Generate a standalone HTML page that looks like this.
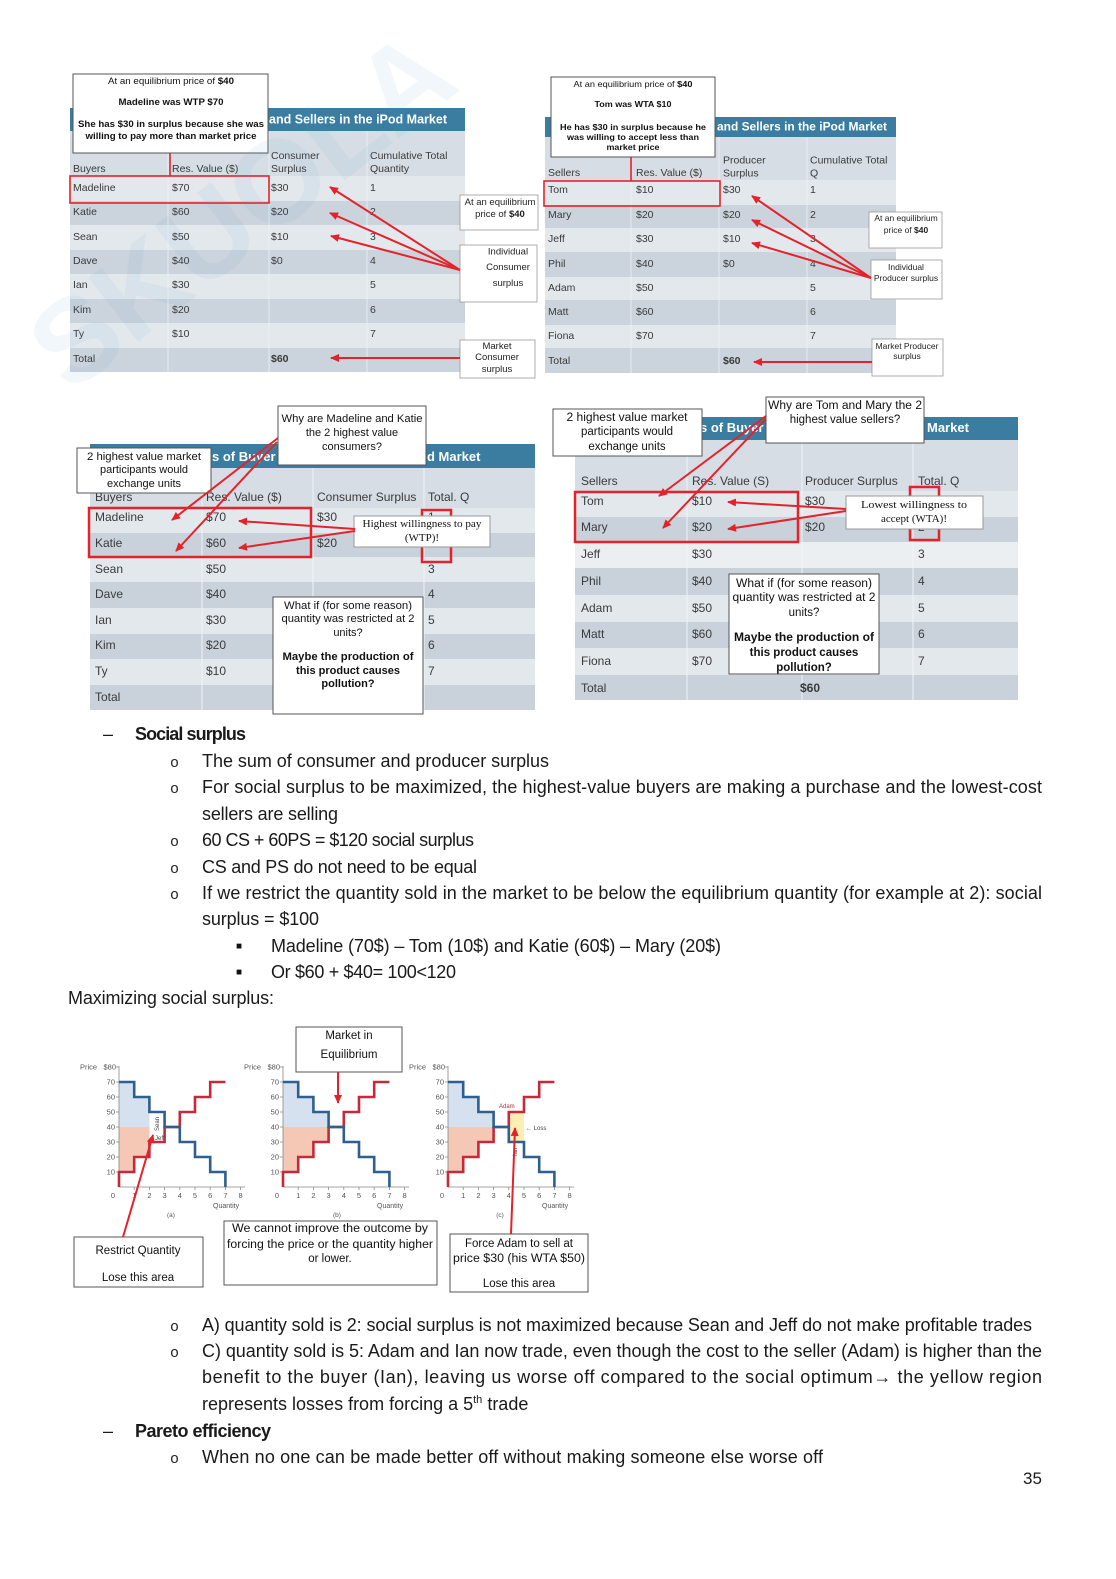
<!DOCTYPE html>
<html>
<head>
<meta charset="utf-8">
<style>
html,body{margin:0;padding:0;background:#fff;}
body{width:1116px;height:1579px;position:relative;overflow:hidden;}
svg{position:absolute;left:0;top:0;}
.t{font-family:"Liberation Sans",Arial,sans-serif;}
.s{font-family:"Liberation Serif","Times New Roman",serif;}
</style>
</head>
<body>
<svg width="1116" height="1579" viewBox="0 0 1116 1579" xmlns="http://www.w3.org/2000/svg">
<defs>
<marker id="ah" markerWidth="9" markerHeight="8" refX="8" refY="4" orient="auto" markerUnits="userSpaceOnUse">
<path d="M0,0 L9,4 L0,8 z" fill="#e3232b"/>
</marker>
</defs>

<!-- ================= TABLE 1 (Buyers, top-left) ================= -->
<g class="t" font-size="10.5" fill="#3a3a3a">
<rect x="70" y="108" width="395" height="23" fill="#3a7da1"/>
<text x="269" y="123.5" font-weight="bold" font-size="12.5" fill="#fff" textLength="178" lengthAdjust="spacingAndGlyphs">and Sellers in the iPod Market</text>
<rect x="70" y="131" width="395" height="45" fill="#d6dde4"/>
<rect x="70" y="176" width="395" height="25" fill="#e3e8ed"/>
<rect x="70" y="201" width="395" height="24" fill="#cbd4dc"/>
<rect x="70" y="225" width="395" height="25" fill="#e3e8ed"/>
<rect x="70" y="250" width="395" height="24" fill="#cbd4dc"/>
<rect x="70" y="274" width="395" height="25" fill="#e3e8ed"/>
<rect x="70" y="299" width="395" height="24" fill="#cbd4dc"/>
<rect x="70" y="323" width="395" height="25" fill="#e3e8ed"/>
<rect x="70" y="348" width="395" height="24" fill="#cbd4dc"/>
<g stroke="#f2f5f8" stroke-width="1" opacity="0.7">
<line x1="168" y1="131" x2="168" y2="372"/><line x1="269" y1="131" x2="269" y2="372"/><line x1="367" y1="131" x2="367" y2="372"/>
</g>
<text x="73" y="172">Buyers</text>
<text x="172" y="172">Res. Value ($)</text>
<text x="271" y="159">Consumer</text><text x="271" y="172">Surplus</text>
<text x="370" y="159">Cumulative Total</text><text x="370" y="172">Quantity</text>
<text x="73" y="191">Madeline</text><text x="172" y="191">$70</text><text x="271" y="191">$30</text><text x="370" y="191">1</text>
<text x="73" y="215">Katie</text><text x="172" y="215">$60</text><text x="271" y="215">$20</text><text x="370" y="215">2</text>
<text x="73" y="240">Sean</text><text x="172" y="240">$50</text><text x="271" y="240">$10</text><text x="370" y="240">3</text>
<text x="73" y="264">Dave</text><text x="172" y="264">$40</text><text x="271" y="264">$0</text><text x="370" y="264">4</text>
<text x="73" y="288">Ian</text><text x="172" y="288">$30</text><text x="370" y="288">5</text>
<text x="73" y="313">Kim</text><text x="172" y="313">$20</text><text x="370" y="313">6</text>
<text x="73" y="337">Ty</text><text x="172" y="337">$10</text><text x="370" y="337">7</text>
<text x="73" y="362">Total</text><text x="271" y="362" font-weight="bold">$60</text>

<rect x="70" y="176" width="199" height="27" fill="none" stroke="#e3232b" stroke-width="1.6"/>
<line x1="170" y1="153" x2="170" y2="176" stroke="#e3232b" stroke-width="1.6"/>

<rect x="73" y="74" width="195" height="79" fill="#fff" stroke="#555" stroke-width="1"/>
<g font-size="9" fill="#111" text-anchor="middle">
<text x="171" y="84" textLength="126" lengthAdjust="spacingAndGlyphs">At an equilibrium price of <tspan font-weight="bold">$40</tspan></text>
<text x="171" y="105" font-weight="bold" textLength="105" lengthAdjust="spacingAndGlyphs">Madeline was WTP $70</text>
<text x="171" y="127" font-weight="bold" textLength="186" lengthAdjust="spacingAndGlyphs">She has $30 in surplus because she was</text>
<text x="171" y="139" font-weight="bold" textLength="171" lengthAdjust="spacingAndGlyphs">willing to pay more than market price</text>
</g>

<g fill="#fff" stroke="#999" stroke-width="0.8">
<rect x="460" y="195" width="78" height="35"/>
<rect x="460" y="245" width="77" height="57"/>
<rect x="460" y="340" width="75" height="38"/>
</g>
<g font-size="9.5" fill="#222" text-anchor="middle">
<text x="500" y="205">At an equilibrium</text>
<text x="500" y="217">price of <tspan font-weight="bold">$40</tspan></text>
<text x="508" y="254.5">Individual</text>
<text x="508" y="270">Consumer</text>
<text x="508" y="286">surplus</text>
<text x="497" y="349">Market</text>
<text x="497" y="360">Consumer</text>
<text x="497" y="372">surplus</text>
</g>
<g stroke="#e3232b" stroke-width="2" marker-end="url(#ah)">
<line x1="460" y1="270" x2="330" y2="187"/>
<line x1="460" y1="270" x2="330" y2="213"/>
<line x1="460" y1="270" x2="331" y2="236"/>
<line x1="460" y1="358" x2="331" y2="358"/>
</g>
</g>

<!-- ================= TABLE 2 (Sellers, top-right) ================= -->
<g class="t" font-size="10.5" fill="#3a3a3a">
<rect x="545" y="117" width="351" height="20" fill="#3a7da1"/>
<text x="717" y="130.5" font-weight="bold" font-size="12" fill="#fff" textLength="170" lengthAdjust="spacingAndGlyphs">and Sellers in the iPod Market</text>
<rect x="545" y="137" width="351" height="43" fill="#d6dde4"/>
<rect x="545" y="180" width="351" height="25" fill="#e3e8ed"/>
<rect x="545" y="205" width="351" height="23" fill="#cbd4dc"/>
<rect x="545" y="228" width="351" height="24" fill="#e3e8ed"/>
<rect x="545" y="252" width="351" height="25" fill="#cbd4dc"/>
<rect x="545" y="277" width="351" height="23" fill="#e3e8ed"/>
<rect x="545" y="300" width="351" height="25" fill="#cbd4dc"/>
<rect x="545" y="325" width="351" height="23" fill="#e3e8ed"/>
<rect x="545" y="348" width="351" height="25" fill="#cbd4dc"/>
<g stroke="#f2f5f8" stroke-width="1" opacity="0.7">
<line x1="631" y1="137" x2="631" y2="373"/><line x1="719" y1="137" x2="719" y2="373"/><line x1="807" y1="137" x2="807" y2="373"/>
</g>
<text x="548" y="176">Sellers</text>
<text x="636" y="176">Res. Value ($)</text>
<text x="723" y="163.5">Producer</text><text x="723" y="176.5">Surplus</text>
<text x="810" y="163.5">Cumulative Total</text><text x="810" y="176.5">Q</text>
<text x="548" y="193">Tom</text><text x="636" y="193">$10</text><text x="723" y="193">$30</text><text x="810" y="193">1</text>
<text x="548" y="218">Mary</text><text x="636" y="218">$20</text><text x="723" y="218">$20</text><text x="810" y="218">2</text>
<text x="548" y="242">Jeff</text><text x="636" y="242">$30</text><text x="723" y="242">$10</text><text x="810" y="242">3</text>
<text x="548" y="267">Phil</text><text x="636" y="267">$40</text><text x="723" y="267">$0</text><text x="810" y="267">4</text>
<text x="548" y="291">Adam</text><text x="636" y="291">$50</text><text x="810" y="291">5</text>
<text x="548" y="315">Matt</text><text x="636" y="315">$60</text><text x="810" y="315">6</text>
<text x="548" y="339">Fiona</text><text x="636" y="339">$70</text><text x="810" y="339">7</text>
<text x="548" y="364">Total</text><text x="723" y="364" font-weight="bold">$60</text>

<rect x="544" y="181" width="176" height="25" fill="none" stroke="#e3232b" stroke-width="1.6"/>
<line x1="631" y1="157" x2="631" y2="181" stroke="#e3232b" stroke-width="1.6"/>

<rect x="551" y="77" width="164" height="80" fill="#fff" stroke="#555" stroke-width="1"/>
<g font-size="8.5" fill="#111" text-anchor="middle">
<text x="633" y="87" textLength="119" lengthAdjust="spacingAndGlyphs">At an equilibrium price of <tspan font-weight="bold">$40</tspan></text>
<text x="633" y="107" font-weight="bold" textLength="77" lengthAdjust="spacingAndGlyphs">Tom was WTA $10</text>
<text x="633" y="130" font-weight="bold" textLength="146" lengthAdjust="spacingAndGlyphs">He has $30 in surplus because he</text>
<text x="633" y="140" font-weight="bold" textLength="132" lengthAdjust="spacingAndGlyphs">was willing to accept less than</text>
<text x="633" y="150" font-weight="bold" textLength="53" lengthAdjust="spacingAndGlyphs">market price</text>
</g>

<g fill="#fff" stroke="#999" stroke-width="0.8">
<rect x="869" y="212" width="73" height="36"/>
<rect x="871" y="260" width="71" height="39"/>
<rect x="872" y="339" width="71" height="37"/>
</g>
<g font-size="8.5" fill="#222" text-anchor="middle">
<text x="906" y="221">At an equilibrium</text>
<text x="906" y="233">price of <tspan font-weight="bold">$40</tspan></text>
<text x="906" y="270">Individual</text>
<text x="906" y="281">Producer surplus</text>
<text x="907" y="349">Market Producer</text>
<text x="907" y="359">surplus</text>
</g>
<g stroke="#e3232b" stroke-width="2" marker-end="url(#ah)">
<line x1="871" y1="278" x2="752" y2="196"/>
<line x1="871" y1="278" x2="752" y2="220"/>
<line x1="871" y1="278" x2="752" y2="243"/>
<line x1="872" y1="362" x2="754" y2="362"/>
</g>
</g>

<!-- ================= TABLE 3 (middle-left) ================= -->
<g class="t" font-size="12" fill="#3a3a3a">
<rect x="90" y="444" width="445" height="24" fill="#3a7da1"/>
<text x="212" y="461" font-weight="bold" font-size="13" fill="#fff">s of Buyer</text>
<text x="427" y="461" font-weight="bold" font-size="13" fill="#fff">d Market</text>
<rect x="90" y="468" width="445" height="40" fill="#d6dde4"/>
<rect x="90" y="508" width="445" height="25" fill="#e3e8ed"/>
<rect x="90" y="533" width="445" height="24" fill="#c9d2db"/>
<rect x="90" y="557" width="445" height="25" fill="#e3e8ed"/>
<rect x="90" y="582" width="445" height="26" fill="#c9d2db"/>
<rect x="90" y="608" width="445" height="26" fill="#e3e8ed"/>
<rect x="90" y="634" width="445" height="25" fill="#c9d2db"/>
<rect x="90" y="659" width="445" height="26" fill="#e3e8ed"/>
<rect x="90" y="685" width="445" height="25" fill="#c9d2db"/>
<g stroke="#f2f5f8" stroke-width="1.2" opacity="0.8">
<line x1="202" y1="468" x2="202" y2="710"/><line x1="313" y1="468" x2="313" y2="710"/><line x1="424" y1="468" x2="424" y2="710"/>
</g>
<text x="95" y="501">Buyers</text>
<text x="206" y="501">Res. Value ($)</text>
<text x="317" y="501">Consumer Surplus</text>
<text x="428" y="501">Total. Q</text>
<text x="95" y="521">Madeline</text><text x="206" y="521">$70</text><text x="317" y="521">$30</text><text x="428" y="521">1</text>
<text x="95" y="547">Katie</text><text x="206" y="547">$60</text><text x="317" y="547">$20</text><text x="428" y="547">2</text>
<text x="95" y="573">Sean</text><text x="206" y="573">$50</text><text x="428" y="573">3</text>
<text x="95" y="598">Dave</text><text x="206" y="598">$40</text><text x="428" y="598">4</text>
<text x="95" y="624">Ian</text><text x="206" y="624">$30</text><text x="428" y="624">5</text>
<text x="95" y="649">Kim</text><text x="206" y="649">$20</text><text x="428" y="649">6</text>
<text x="95" y="675">Ty</text><text x="206" y="675">$10</text><text x="428" y="675">7</text>
<text x="95" y="701">Total</text>

<rect x="89" y="508" width="222" height="49" fill="none" stroke="#e3232b" stroke-width="2.5"/>
<rect x="422" y="510" width="29" height="52" fill="none" stroke="#e3232b" stroke-width="2.5"/>

<g fill="#fff" stroke="#555" stroke-width="1">
<rect x="77" y="448" width="134" height="45"/>
<rect x="278" y="406" width="148" height="59"/>
<rect x="354" y="516" width="136" height="31" stroke="#999"/>
<rect x="273" y="597" width="150" height="117"/>
</g>
<g font-size="11" fill="#111" text-anchor="middle">
<text x="144" y="460" textLength="114" lengthAdjust="spacingAndGlyphs">2 highest value market</text>
<text x="144" y="473">participants would</text>
<text x="144" y="487">exchange units</text>
<text x="352" y="422" textLength="141" lengthAdjust="spacingAndGlyphs">Why are Madeline and Katie</text>
<text x="352" y="436">the 2 highest value</text>
<text x="352" y="450">consumers?</text>
<text x="348" y="609" textLength="128" lengthAdjust="spacingAndGlyphs">What if (for some reason)</text>
<text x="348" y="622" textLength="133" lengthAdjust="spacingAndGlyphs">quantity was restricted at 2</text>
<text x="348" y="636">units?</text>
<text x="348" y="660" font-weight="bold" textLength="131" lengthAdjust="spacingAndGlyphs">Maybe the production of</text>
<text x="348" y="674" font-weight="bold">this product causes</text>
<text x="348" y="687" font-weight="bold">pollution?</text>
</g>
<g class="s" font-size="11" fill="#111" text-anchor="middle">
<text x="422" y="527" textLength="119" lengthAdjust="spacingAndGlyphs">Highest willingness to pay</text>
<text x="422" y="541">(WTP)!</text>
</g>
<g stroke="#e3232b" stroke-width="2" marker-end="url(#ah)">
<line x1="355" y1="529" x2="239" y2="521"/>
<line x1="355" y1="531" x2="239" y2="548"/>
<line x1="278" y1="438" x2="172" y2="520"/>
<line x1="277" y1="442" x2="176" y2="551"/>
</g>
</g>

<!-- ================= TABLE 4 (middle-right) ================= -->
<g class="t" font-size="12" fill="#3a3a3a">
<rect x="575" y="417" width="443" height="23" fill="#3a7da1"/>
<text x="700" y="432" font-weight="bold" font-size="13" fill="#fff">s of Buyer</text>
<text x="927" y="432" font-weight="bold" font-size="13" fill="#fff">Market</text>
<rect x="575" y="440" width="443" height="51" fill="#d6dde4"/>
<rect x="575" y="491" width="443" height="26" fill="#e3e8ed"/>
<rect x="575" y="517" width="443" height="25" fill="#c9d2db"/>
<rect x="575" y="542" width="443" height="26" fill="#eceff2"/>
<rect x="575" y="568" width="443" height="27" fill="#c9d2db"/>
<rect x="575" y="595" width="443" height="27" fill="#e3e8ed"/>
<rect x="575" y="622" width="443" height="26" fill="#c9d2db"/>
<rect x="575" y="648" width="443" height="27" fill="#e3e8ed"/>
<rect x="575" y="675" width="443" height="25" fill="#c9d2db"/>
<g stroke="#f2f5f8" stroke-width="1.2" opacity="0.8">
<line x1="687" y1="440" x2="687" y2="700"/><line x1="802" y1="440" x2="802" y2="700"/><line x1="913" y1="440" x2="913" y2="700"/>
</g>
<text x="581" y="485">Sellers</text>
<text x="692" y="485">Res. Value (S)</text>
<text x="805" y="485">Producer Surplus</text>
<text x="918" y="485">Total. Q</text>
<text x="581" y="505">Tom</text><text x="692" y="505">$10</text><text x="805" y="505">$30</text><text x="918" y="505">1</text>
<text x="581" y="531">Mary</text><text x="692" y="531">$20</text><text x="805" y="531">$20</text><text x="918" y="531">2</text>
<text x="581" y="558">Jeff</text><text x="692" y="558">$30</text><text x="918" y="558">3</text>
<text x="581" y="585">Phil</text><text x="692" y="585">$40</text><text x="918" y="585">4</text>
<text x="581" y="612">Adam</text><text x="692" y="612">$50</text><text x="918" y="612">5</text>
<text x="581" y="638">Matt</text><text x="692" y="638">$60</text><text x="918" y="638">6</text>
<text x="581" y="665">Fiona</text><text x="692" y="665">$70</text><text x="918" y="665">7</text>
<text x="581" y="692">Total</text><text x="800" y="692" font-weight="bold">$60</text>

<rect x="575" y="492" width="223" height="50" fill="none" stroke="#e3232b" stroke-width="2.5"/>
<rect x="910" y="487" width="29" height="53" fill="none" stroke="#e3232b" stroke-width="2.5"/>

<g fill="#fff" stroke="#555" stroke-width="1">
<rect x="553" y="409" width="149" height="47"/>
<rect x="766" y="397" width="158" height="46"/>
<rect x="846" y="496" width="137" height="33" stroke="#999"/>
<rect x="729" y="574" width="150" height="100"/>
</g>
<g font-size="11.5" fill="#111" text-anchor="middle">
<text x="627" y="421" textLength="121" lengthAdjust="spacingAndGlyphs">2 highest value market</text>
<text x="627" y="435">participants would</text>
<text x="627" y="450">exchange units</text>
<text x="845" y="409" textLength="154" lengthAdjust="spacingAndGlyphs">Why are Tom and Mary the 2</text>
<text x="845" y="423">highest value sellers?</text>
<text x="804" y="587" textLength="136" lengthAdjust="spacingAndGlyphs">What if (for some reason)</text>
<text x="804" y="601" textLength="143" lengthAdjust="spacingAndGlyphs">quantity was restricted at 2</text>
<text x="804" y="616">units?</text>
<text x="804" y="641" font-weight="bold" textLength="140" lengthAdjust="spacingAndGlyphs">Maybe the production of</text>
<text x="804" y="656" font-weight="bold">this product causes</text>
<text x="804" y="671" font-weight="bold">pollution?</text>
</g>
<g class="s" font-size="11" fill="#111" text-anchor="middle">
<text x="914" y="508" textLength="106" lengthAdjust="spacingAndGlyphs">Lowest willingness to</text>
<text x="914" y="522">accept (WTA)!</text>
</g>
<g stroke="#e3232b" stroke-width="2" marker-end="url(#ah)">
<line x1="846" y1="509" x2="728" y2="502"/>
<line x1="846" y1="511" x2="728" y2="529"/>
<line x1="766" y1="416" x2="659" y2="496"/>
<line x1="766" y1="419" x2="663" y2="528"/>
</g>
</g>

<!-- faint watermark -->
<g opacity="0.07" class="t">
<text x="0" y="0" transform="translate(70,395) rotate(-38)" font-size="118" font-weight="bold" fill="#5a9ad6">SKUOLA</text>
</g>

<!-- ================= BODY TEXT ================= -->
<g class="t" font-size="18" fill="#1a1a1a">
<text x="103" y="740">–</text>
<text x="135" y="740" font-weight="bold" textLength="111" lengthAdjust="spacing">Social surplus</text>
<text x="202" y="767" textLength="347" lengthAdjust="spacing">The sum of consumer and producer surplus</text>
<text x="202" y="793" textLength="840" lengthAdjust="spacing">For social surplus to be maximized, the highest-value buyers are making a purchase and the lowest-cost</text>
<text x="202" y="820" textLength="136" lengthAdjust="spacing">sellers are selling</text>
<text x="202" y="846" textLength="272" lengthAdjust="spacing">60 CS + 60PS = $120 social surplus</text>
<text x="202" y="873" textLength="275" lengthAdjust="spacing">CS and PS do not need to be equal</text>
<text x="202" y="899" textLength="840" lengthAdjust="spacing">If we restrict the quantity sold in the market to be below the equilibrium quantity (for example at 2): social</text>
<text x="202" y="925" textLength="117" lengthAdjust="spacing">surplus = $100</text>
<text x="271" y="952" textLength="450" lengthAdjust="spacing">Madeline (70$) – Tom (10$) and Katie (60$) – Mary (20$)</text>
<text x="271" y="978" textLength="185" lengthAdjust="spacing">Or $60 + $40= 100&lt;120</text>
<text x="68" y="1004" textLength="206" lengthAdjust="spacing">Maximizing social surplus:</text>

<text x="202" y="1331" textLength="830" lengthAdjust="spacing">A) quantity sold is 2: social surplus is not maximized because Sean and Jeff do not make profitable trades</text>
<text x="202" y="1357" textLength="840" lengthAdjust="spacing">C) quantity sold is 5: Adam and Ian now trade, even though the cost to the seller (Adam) is higher than the</text>
<text x="202" y="1383" textLength="840" lengthAdjust="spacing">benefit to the buyer (Ian), leaving us worse off compared to the social optimum→ the yellow region</text>
<text x="202" y="1410">represents losses from forcing a 5<tspan font-size="11" dy="-7">th</tspan><tspan dy="7"> trade</tspan></text>
<text x="103" y="1437">–</text>
<text x="135" y="1437" font-weight="bold" textLength="136" lengthAdjust="spacing">Pareto efficiency</text>
<text x="202" y="1463" textLength="621" lengthAdjust="spacing">When no one can be made better off without making someone else worse off</text>
<text x="1023" y="1484" font-size="17">35</text>
</g>
<g font-family="'Liberation Mono',monospace" font-size="15" fill="#222">
<text x="170" y="767">o</text>
<text x="170" y="793">o</text>
<text x="170" y="846">o</text>
<text x="170" y="873">o</text>
<text x="170" y="899">o</text>
<text x="170" y="1331">o</text>
<text x="170" y="1357">o</text>
<text x="170" y="1463">o</text>
</g>
<g class="t" font-size="10" fill="#111">
<text x="236" y="949">■</text>
<text x="236" y="975">■</text>
</g>

<!-- ================= CHARTS ================= -->
<!-- chart a -->
<g transform="translate(119,0)" class="t">
<path d="M0,1127 V1082 H15.2 V1097 H30.4 V1127 Z" fill="#d6e1ef"/>
<path d="M0,1127 V1172 H15.2 V1157 H30.4 V1127 Z" fill="#f4c8b5"/>
<g stroke="#888" stroke-width="0.8" fill="none">
<path d="M0,1066 V1187 H126"/>
<path d="M-3,1082 H0 M-3,1097 H0 M-3,1112 H0 M-3,1127 H0 M-3,1142 H0 M-3,1157 H0 M-3,1172 H0 M-3,1067 H0"/>
<path d="M15.2,1187 v3 M30.4,1187 v3 M45.6,1187 v3 M60.8,1187 v3 M76,1187 v3 M91.2,1187 v3 M106.4,1187 v3 M121.6,1187 v3"/>
</g>
<path d="M0,1187 V1172 H15.2 V1157 H30.4 V1142 H45.6 V1127 H60.8 V1112 H76 V1097 H91.2 V1082 H106.4" fill="none" stroke="#c62a3a" stroke-width="2.6"/>
<path d="M0,1082 H15.2 V1097 H30.4 V1112 H45.6 V1127 H60.8 V1142 H76 V1157 H91.2 V1172 H106.4 V1187" fill="none" stroke="#2d5f91" stroke-width="2.6"/>
<g font-size="7.5" fill="#555" text-anchor="end">
<text x="-39" y="1069.5" text-anchor="start">Price</text><text x="-3" y="1069.5">$80</text>
<text x="-4" y="1084.5">70</text><text x="-4" y="1099.5">60</text><text x="-4" y="1114.5">50</text><text x="-4" y="1129.5">40</text>
<text x="-4" y="1144.5">30</text><text x="-4" y="1159.5">20</text><text x="-4" y="1174.5">10</text>
</g>
<g font-size="7.5" fill="#555" text-anchor="middle">
<text x="-6" y="1198">0</text><text x="15.2" y="1198">1</text><text x="30.4" y="1198">2</text><text x="45.6" y="1198">3</text>
<text x="60.8" y="1198">4</text><text x="76" y="1198">5</text><text x="91.2" y="1198">6</text><text x="106.4" y="1198">7</text><text x="121.6" y="1198">8</text>
</g>
<text x="94" y="1208" font-size="7" fill="#555">Quantity</text>
<text x="52" y="1217" font-size="6.5" fill="#555" text-anchor="middle">(a)</text>
<text x="0" y="0" transform="translate(40,1131) rotate(-90)" font-size="6" fill="#444">Sean</text>
<text x="36" y="1140" font-size="6" fill="#444">Jeff</text>
</g>

<!-- chart b -->
<g transform="translate(283,0)" class="t">
<path d="M0,1127 V1082 H15.2 V1097 H30.4 V1112 H45.6 V1127 Z" fill="#d6e1ef"/>
<path d="M0,1127 V1172 H15.2 V1157 H30.4 V1142 H45.6 V1127 Z" fill="#f4c8b5"/>
<g stroke="#888" stroke-width="0.8" fill="none">
<path d="M0,1066 V1187 H126"/>
<path d="M-3,1082 H0 M-3,1097 H0 M-3,1112 H0 M-3,1127 H0 M-3,1142 H0 M-3,1157 H0 M-3,1172 H0 M-3,1067 H0"/>
<path d="M15.2,1187 v3 M30.4,1187 v3 M45.6,1187 v3 M60.8,1187 v3 M76,1187 v3 M91.2,1187 v3 M106.4,1187 v3 M121.6,1187 v3"/>
</g>
<path d="M0,1187 V1172 H15.2 V1157 H30.4 V1142 H45.6 V1127 H60.8 V1112 H76 V1097 H91.2 V1082 H106.4" fill="none" stroke="#c62a3a" stroke-width="2.6"/>
<path d="M0,1082 H15.2 V1097 H30.4 V1112 H45.6 V1127 H60.8 V1142 H76 V1157 H91.2 V1172 H106.4 V1187" fill="none" stroke="#2d5f91" stroke-width="2.6"/>
<g font-size="7.5" fill="#555" text-anchor="end">
<text x="-39" y="1069.5" text-anchor="start">Price</text><text x="-3" y="1069.5">$80</text>
<text x="-4" y="1084.5">70</text><text x="-4" y="1099.5">60</text><text x="-4" y="1114.5">50</text><text x="-4" y="1129.5">40</text>
<text x="-4" y="1144.5">30</text><text x="-4" y="1159.5">20</text><text x="-4" y="1174.5">10</text>
</g>
<g font-size="7.5" fill="#555" text-anchor="middle">
<text x="-6" y="1198">0</text><text x="15.2" y="1198">1</text><text x="30.4" y="1198">2</text><text x="45.6" y="1198">3</text>
<text x="60.8" y="1198">4</text><text x="76" y="1198">5</text><text x="91.2" y="1198">6</text><text x="106.4" y="1198">7</text><text x="121.6" y="1198">8</text>
</g>
<text x="94" y="1208" font-size="7" fill="#555">Quantity</text>
<text x="54" y="1217" font-size="6.5" fill="#555" text-anchor="middle">(b)</text>
</g>

<!-- chart c -->
<g transform="translate(448,0)" class="t">
<path d="M0,1127 V1082 H15.2 V1097 H30.4 V1112 H45.6 V1127 Z" fill="#d6e1ef"/>
<path d="M0,1127 V1172 H15.2 V1157 H30.4 V1142 H45.6 V1127 Z" fill="#f4c8b5"/>
<rect x="60.8" y="1112" width="15.2" height="30" fill="#fbefb4"/>
<g stroke="#888" stroke-width="0.8" fill="none">
<path d="M0,1066 V1187 H126"/>
<path d="M-3,1082 H0 M-3,1097 H0 M-3,1112 H0 M-3,1127 H0 M-3,1142 H0 M-3,1157 H0 M-3,1172 H0 M-3,1067 H0"/>
<path d="M15.2,1187 v3 M30.4,1187 v3 M45.6,1187 v3 M60.8,1187 v3 M76,1187 v3 M91.2,1187 v3 M106.4,1187 v3 M121.6,1187 v3"/>
</g>
<path d="M0,1187 V1172 H15.2 V1157 H30.4 V1142 H45.6 V1127 H60.8 V1112 H76 V1097 H91.2 V1082 H106.4" fill="none" stroke="#c62a3a" stroke-width="2.6"/>
<path d="M0,1082 H15.2 V1097 H30.4 V1112 H45.6 V1127 H60.8 V1142 H76 V1157 H91.2 V1172 H106.4 V1187" fill="none" stroke="#2d5f91" stroke-width="2.6"/>
<g font-size="7.5" fill="#555" text-anchor="end">
<text x="-39" y="1069.5" text-anchor="start">Price</text><text x="-3" y="1069.5">$80</text>
<text x="-4" y="1084.5">70</text><text x="-4" y="1099.5">60</text><text x="-4" y="1114.5">50</text><text x="-4" y="1129.5">40</text>
<text x="-4" y="1144.5">30</text><text x="-4" y="1159.5">20</text><text x="-4" y="1174.5">10</text>
</g>
<g font-size="7.5" fill="#555" text-anchor="middle">
<text x="-6" y="1198">0</text><text x="15.2" y="1198">1</text><text x="30.4" y="1198">2</text><text x="45.6" y="1198">3</text>
<text x="60.8" y="1198">4</text><text x="76" y="1198">5</text><text x="91.2" y="1198">6</text><text x="106.4" y="1198">7</text><text x="121.6" y="1198">8</text>
</g>
<text x="94" y="1208" font-size="7" fill="#555">Quantity</text>
<text x="52" y="1217" font-size="6.5" fill="#555" text-anchor="middle">(c)</text>
<text x="51" y="1108" font-size="6" fill="#a33">Adam</text>
<text x="78" y="1130" font-size="6" fill="#444">← Loss</text>
<text x="0" y="0" transform="translate(69,1156) rotate(-90)" font-size="6" fill="#444">Ian</text>
</g>

<!-- chart annotation boxes -->
<g class="t">
<g fill="#fff" stroke="#555" stroke-width="1">
<rect x="296" y="1027" width="106" height="45"/>
<rect x="74" y="1237" width="129" height="50"/>
<rect x="224" y="1221" width="213" height="64"/>
<rect x="450" y="1234" width="138" height="58"/>
</g>
<g font-size="11.5" fill="#111" text-anchor="middle">
<text x="349" y="1039">Market in</text>
<text x="349" y="1058">Equilibrium</text>
<text x="138" y="1254">Restrict Quantity</text>
<text x="138" y="1281">Lose this area</text>
<text x="330" y="1232" textLength="196" lengthAdjust="spacingAndGlyphs">We cannot improve the outcome by</text>
<text x="330" y="1248" textLength="206" lengthAdjust="spacingAndGlyphs">forcing the price or the quantity higher</text>
<text x="330" y="1262">or lower.</text>
<text x="519" y="1247">Force Adam to sell at</text>
<text x="519" y="1262" textLength="132" lengthAdjust="spacingAndGlyphs">price $30 (his WTA $50)</text>
<text x="519" y="1287">Lose this area</text>
</g>
<g stroke="#e3232b" stroke-width="2" marker-end="url(#ah)">
<line x1="123" y1="1237" x2="153" y2="1135"/>
<line x1="511" y1="1234" x2="515" y2="1128"/>
<line x1="338" y1="1072" x2="338" y2="1103"/>
</g>
</g>
</svg>
</body>
</html>
